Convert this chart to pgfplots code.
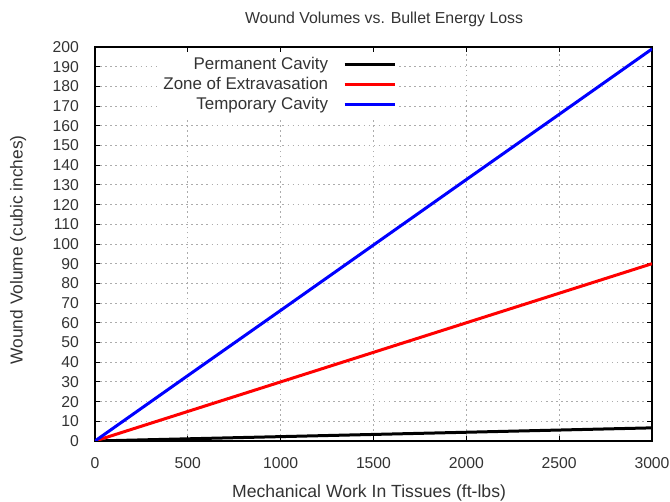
\documentclass[border=0pt]{standalone}
\usepackage{fontspec}
\setmainfont{Liberation Sans}
\usepackage{pgfplots}
\pgfplotsset{compat=1.18}
\definecolor{txt}{gray}{0.2}
\begin{document}
\begin{tikzpicture}
\begin{axis}[
  scale only axis,
  width=417.75pt, height=295.5pt,
  xmin=0, xmax=3000, ymin=0, ymax=200,
  xtick={0,500,...,3000},
  ytick={0,10,...,200},
  tick align=inside,
  major tick length=4pt,
  xtick pos=both, ytick pos=both,
  grid=major,
  major grid style={dash pattern=on 1.2pt off 2.6pt, gray!65, line width=0.6pt},
  axis line style={black, line width=0.8pt},
  tick style={black, line width=0.6pt},
  /pgf/number format/assume math mode=true,
  /pgf/number format/1000 sep={},
  ticklabel style={font=\fontsize{11.8pt}{13pt}\selectfont, text=txt},
  xticklabel style={yshift=-8.5pt},
  yticklabel style={xshift=-8.5pt},
  title={Wound Volumes vs. Bullet Energy Loss},
  title style={font=\fontsize{11.9pt}{13pt}\selectfont, text=txt, at={(axis description cs:0.519,1.051)}, anchor=center},
  xlabel={Mechanical Work In Tissues (ft-lbs)},
  ylabel={Wound Volume (cubic inches)},
  xlabel style={font=\fontsize{13.2pt}{15pt}\selectfont, text=txt, at={(axis description cs:0.492,-0.132)}, anchor=center},
  ylabel style={font=\fontsize{13pt}{15pt}\selectfont, text=txt, at={(axis description cs:-0.138,0.485)}, anchor=center, rotate=0},
  legend plot pos=right,
  legend cell align=right,
  legend style={at={(0.547,0.987)}, anchor=north east, draw=none, fill=white,
    font=\fontsize{12.7pt}{14pt}\selectfont, text=txt,
    row sep=0pt, column sep=10pt, inner sep=2pt,
    nodes={text height=9.5pt, text depth=3pt, inner sep=1.2pt}},
  legend image code/.code={\draw[#1, line width=2.25pt] (0pt,0pt) -- (38pt,0pt);},
]
\addplot[black, line width=2.25pt] coordinates {(0,0) (500,1.11) (1000,2.22) (1500,3.33) (2000,4.44) (2500,5.56) (3000,6.67)};
\addlegendentry{Permanent Cavity}
\addplot[red, line width=2.25pt] coordinates {(0,0) (500,15) (1000,30) (1500,45) (2000,60) (2500,75) (3000,90)};
\addlegendentry{Zone of Extravasation}
\addplot[blue, line width=2.25pt] coordinates {(0,0) (500,33.2) (1000,66.3) (1500,99.5) (2000,132.7) (2500,165.8) (3000,199)};
\addlegendentry{Temporary Cavity}
\end{axis}
\pgfresetboundingbox
\path[use as bounding box] ([xshift=-71.25pt,yshift=-45.75pt]current axis.south west) rectangle ([xshift=13.5pt,yshift=35.25pt]current axis.north east);
\end{tikzpicture}
\end{document}
